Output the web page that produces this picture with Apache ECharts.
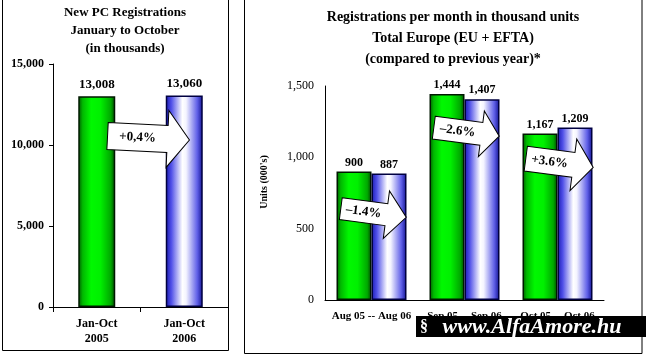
<!DOCTYPE html>
<html><head><meta charset="utf-8">
<script src="https://cdn.jsdelivr.net/npm/echarts@6/dist/echarts.min.js"></script>
<style>html,body{margin:0;padding:0;background:#fff}#c{width:646px;height:356px}</style>
</head><body><div id="c"></div>
<script>
// ---- data ----
const leftCategories = ['Jan-Oct\n2005', 'Jan-Oct\n2006'];
const leftValues = [13008, 13060];
const leftYTicks = [0, 5000, 10000, 15000];
const leftArrowLabel = '+0,4%';
const leftArrowValue = 10430;

const rightCategories = ['Aug 05 -- Aug 06', 'Sep 05 -- Sep 06', 'Oct 05 -- Oct 06'];
const rightValues2005 = [900, 1444, 1167];
const rightValues2006 = [887, 1407, 1209];
const rightYTicks = [0, 500, 1000, 1500];
const rightArrowLabels = ['\u20131.4%', '\u20132.6%', '+3.6%'];
const rightArrowValues = [610, 1178, 960];

const FONT = '"Liberation Serif", "Times New Roman", serif';
const greenGrad = {type:'linear',x:0,y:0,x2:1,y2:0,colorStops:[
  {offset:0,color:'#005800'},{offset:0.12,color:'#00b800'},{offset:0.35,color:'#00f800'},
  {offset:0.6,color:'#00f000'},{offset:0.88,color:'#00a800'},{offset:1,color:'#004400'}]};
const blueGrad = {type:'linear',x:0,y:0,x2:1,y2:0,colorStops:[
  {offset:0,color:'#1818b0'},{offset:0.15,color:'#5050e8'},{offset:0.45,color:'#ffffff'},
  {offset:0.55,color:'#f4f4ff'},{offset:0.85,color:'#6060e8'},{offset:1,color:'#101090'}]};
const fmt = v => v.toLocaleString('en-US');

const chart = echarts.init(document.getElementById('c'), null, {renderer:'canvas'});
const option = {
  backgroundColor:'#fff',
  animation:false,
  title:[
    {text:'New PC Registrations\nJanuary to October\n(in thousands)', left:125, top:4, textAlign:'center', padding:0,
     textStyle:{fontFamily:FONT, fontWeight:'bold', fontSize:13, lineHeight:18, color:'#000'}},
    {text:'Registrations per month in thousand units\nTotal Europe (EU + EFTA)\n(compared to previous year)*', left:453, top:7, textAlign:'center', padding:0,
     textStyle:{fontFamily:FONT, fontWeight:'bold', fontSize:14, lineHeight:21, color:'#000'}}
  ],
  grid:[
    {left:53, right:418, top:64, bottom:49},
    {left:325, right:42, top:86, bottom:56}
  ],
  xAxis:[
    {type:'category', gridIndex:0, data:leftCategories,
     axisLine:{lineStyle:{color:'#000', width:1}},
     axisTick:{show:true, length:5, lineStyle:{color:'#000'}},
     axisLabel:{fontFamily:FONT, fontWeight:'bold', fontSize:12, lineHeight:15, color:'#000', margin:9, interval:0}},
    {type:'category', gridIndex:1, data:rightCategories,
     axisLine:{lineStyle:{color:'#000', width:1}},
     axisTick:{show:false},
     axisLabel:{fontFamily:FONT, fontWeight:'bold', fontSize:11, color:'#000', margin:11, interval:0}}
  ],
  yAxis:[
    {type:'value', gridIndex:0, min:leftYTicks[0], max:leftYTicks[leftYTicks.length-1], interval:leftYTicks[1]-leftYTicks[0],
     axisLine:{show:true, lineStyle:{color:'#000'}},
     axisTick:{show:true, length:4, lineStyle:{color:'#000'}},
     splitLine:{show:false},
     axisLabel:{fontFamily:FONT, fontWeight:'bold', fontSize:12, color:'#000', margin:9, formatter:v=>fmt(v)}},
    {type:'value', gridIndex:1, min:rightYTicks[0], max:rightYTicks[rightYTicks.length-1], interval:rightYTicks[1]-rightYTicks[0],
     name:"Units (000's)", nameLocation:'middle', nameGap:56, nameRotate:90,
     nameTextStyle:{fontFamily:FONT, fontWeight:'bold', fontSize:10, color:'#000', padding:[0,0,0,22]},
     axisLine:{show:true, lineStyle:{color:'#000'}},
     axisTick:{show:false},
     splitLine:{show:false},
     axisLabel:{fontFamily:FONT, fontSize:12, color:'#000', margin:11, formatter:v=>fmt(v)}}
  ],
  series:[
    {type:'bar', xAxisIndex:0, yAxisIndex:0, barWidth:37,
     data:leftValues.map((v,i)=>({value:v, itemStyle:{color: i===0?greenGrad:blueGrad, borderColor: i===0?'#001800':'#000040', borderWidth:1.5}})),
     label:{show:true, position:'top', distance:5, fontFamily:FONT, fontWeight:'bold', fontSize:13, color:'#000', formatter:p=>fmt(p.value)}},
    {type:'bar', xAxisIndex:1, yAxisIndex:1, barWidth:35, barGap:'0%',
     data:rightValues2005, itemStyle:{color:greenGrad, borderColor:'#001800', borderWidth:1.5},
     label:{show:true, position:'top', distance:3, fontFamily:FONT, fontWeight:'bold', fontSize:12, color:'#000', formatter:p=>fmt(p.value)}},
    {type:'bar', xAxisIndex:1, yAxisIndex:1, barWidth:35, barGap:'0%',
     data:rightValues2006, itemStyle:{color:blueGrad, borderColor:'#000040', borderWidth:1.5},
     label:{show:true, position:'top', distance:3, fontFamily:FONT, fontWeight:'bold', fontSize:12, color:'#000', formatter:p=>fmt(p.value)}}
  ]
};
chart.setOption(option);

function arrow(cx, cy, L, bh, hh, hl, rot, text, fs){
  const x0 = -L/2, x1 = L/2, xh = L/2 - hl;
  return {type:'group', x:cx, y:cy, rotation:rot, children:[
    {type:'polygon', z:100, shape:{points:[[x0,-bh],[xh,-bh],[xh,-hh],[x1,0],[xh,hh],[xh,bh],[x0,bh]]},
     style:{fill:'#fff', stroke:'#000', lineWidth:1}},
    {type:'text', z:101, x:-hl/2, y:0, style:{text:text, fill:'#000', font:'bold '+fs+'px '+FONT, align:'center', verticalAlign:'middle'}}
  ]};
}
const g = [];
// panel frames
g.push({type:'rect', shape:{x:2.5, y:-2, width:226, height:352.5}, style:{fill:null, stroke:'#000', lineWidth:1}, z:0});
g.push({type:'rect', shape:{x:244.5, y:-2, width:397.5, height:355.5}, style:{fill:null, stroke:'#000', lineWidth:1}, z:0});
// left arrow
const lp0 = chart.convertToPixel({xAxisIndex:0, yAxisIndex:0}, [0, leftArrowValue]);
const lp1 = chart.convertToPixel({xAxisIndex:0, yAxisIndex:0}, [1, leftArrowValue]);
g.push(arrow((lp0[0]+lp1[0])/2 + 8, lp0[1], 82, 13.5, 28.5, 22, -0.05, leftArrowLabel, 13));
// right arrows
const sizes = [[66,11,24,20],[66,11.5,23,18],[68,12.5,26,20]];
rightArrowLabels.forEach((t,i)=>{
  const p = chart.convertToPixel({xAxisIndex:1, yAxisIndex:1}, [i, rightArrowValues[i]]);
  const s = sizes[i];
  g.push(arrow(p[0]+2, p[1], s[0], s[1], s[2], s[3], -0.13, t, 13));
});
// watermark
g.push({type:'rect', shape:{x:416, y:316, width:230, height:21}, style:{fill:'#000'}, z:200});
g.push({type:'text', x:424, y:327, z:201, style:{text:'\u00a7', fill:'#fff', font:'bold 16px '+FONT, align:'center', verticalAlign:'middle'}});
g.push({type:'text', x:532, y:327, z:201, style:{text:'www.AlfaAmore.hu', fill:'#fff', font:'italic bold 22px '+FONT, align:'center', verticalAlign:'middle'}});
chart.setOption({graphic:g});
</script>
</body></html>
